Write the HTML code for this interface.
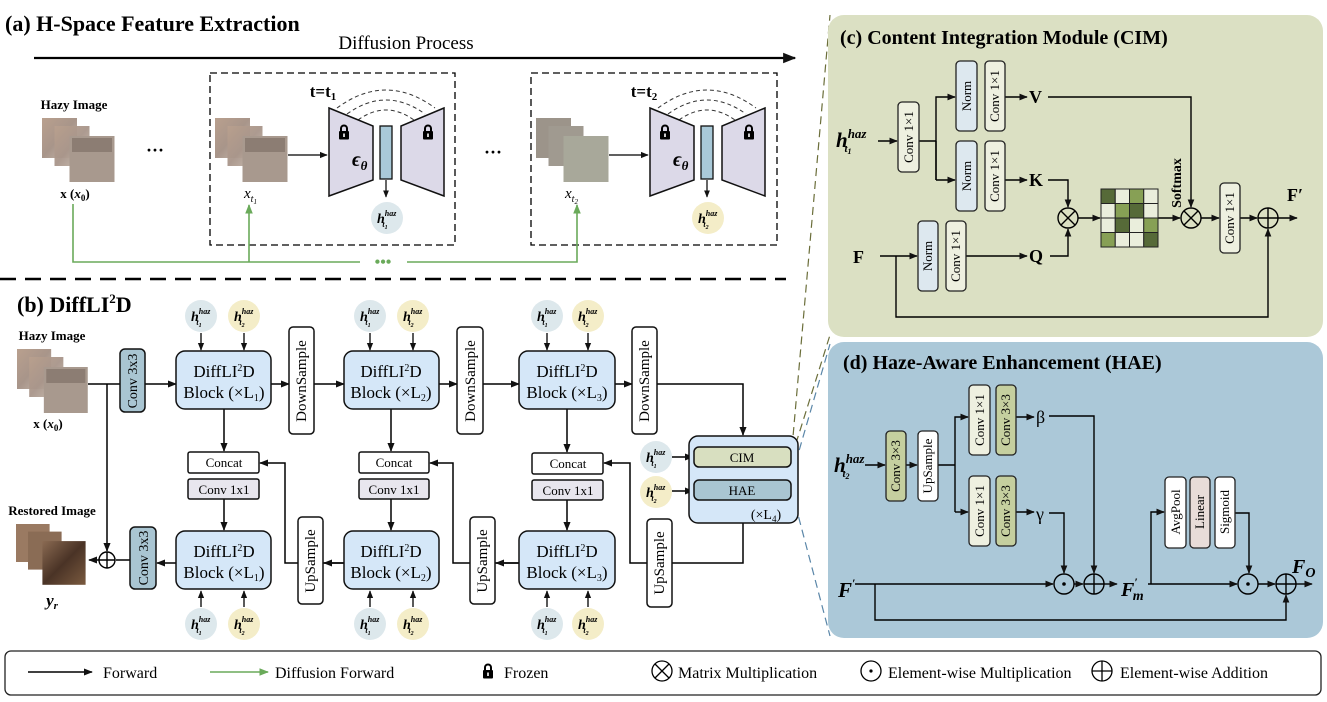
<!DOCTYPE html>
<html><head><meta charset="utf-8"><style>
html,body{margin:0;padding:0;background:#fff;}
svg{display:block;font-family:"Liberation Serif",serif;}
</style></head><body>
<svg width="1327" height="702" viewBox="0 0 1327 702" xmlns="http://www.w3.org/2000/svg">
<defs>
<marker id="ar" viewBox="0 0 10 10" refX="9" refY="5" markerWidth="6" markerHeight="6" orient="auto-start-reverse"><path d="M0,1 L10,5 L0,9 z" fill="#111"/></marker>
<marker id="ag" viewBox="0 0 10 10" refX="9" refY="5" markerWidth="6" markerHeight="6" orient="auto"><path d="M0,1 L10,5 L0,9 z" fill="#6aaa5a"/></marker>
<symbol id="lock" viewBox="0 0 12 16"><path d="M3,7 V4.5 A3,3 0 0 1 9,4.5 V7" fill="none" stroke="#000" stroke-width="2"/><rect x="1" y="7" width="10" height="8.5" rx="1" fill="#000"/><rect x="5.2" y="9.5" width="1.6" height="3.5" fill="#fff"/></symbol>
<linearGradient id="img1" x1="0" y1="0" x2="1" y2="1"><stop offset="0" stop-color="#b9a08e"/><stop offset="0.5" stop-color="#a8958a"/><stop offset="1" stop-color="#cbbfb2"/></linearGradient>
<linearGradient id="img3" x1="0" y1="0" x2="1" y2="1"><stop offset="0" stop-color="#8a6a52"/><stop offset="0.5" stop-color="#4a3326"/><stop offset="1" stop-color="#7a5a3f"/></linearGradient>
<g id="hz"><rect x="0" y="0" width="28" height="40" fill="url(#img1)"/><rect x="10" y="8" width="28" height="40" fill="url(#img1)" opacity="0.95"/><rect x="22" y="18" width="36" height="46" fill="#a8998e"/><rect x="24" y="20" width="32" height="14" fill="#6a5a52" opacity="0.45"/></g>
</defs>

<!-- (a) -->
<text x="5" y="31" font-size="22" font-weight="bold">(a) H-Space Feature Extraction</text>
<text x="406" y="49" font-size="19" text-anchor="middle">Diffusion Process</text>
<line x1="34" y1="58" x2="795" y2="58" stroke="#000" stroke-width="2.2" marker-end="url(#ar)"/>
<rect x="210" y="73" width="245" height="172" fill="none" stroke="#000" stroke-width="1.3" stroke-dasharray="7,4"/>
<rect x="531" y="73" width="246" height="172" fill="none" stroke="#000" stroke-width="1.3" stroke-dasharray="7,4"/>
<text x="74" y="109" font-size="13" font-weight="bold" text-anchor="middle">Hazy Image</text>
<g transform="translate(42,118) scale(1.25,1)"><use href="#hz"/></g>
<text x="75" y="198" font-size="13" font-weight="bold" text-anchor="middle">x (<tspan font-style="italic">x</tspan><tspan font-size="9" dy="3">0</tspan><tspan dy="-3">)</tspan></text>
<text x="155" y="156" font-size="18" font-weight="bold" text-anchor="middle">···</text>
<text x="493" y="158" font-size="18" font-weight="bold" text-anchor="middle">···</text>

<g>
<g transform="translate(215,118) scale(1.25,1)"><use href="#hz"/></g>
<text x="244" y="198" font-size="15" font-style="italic">x<tspan font-size="10" dy="4">t</tspan><tspan font-size="7" dy="2">1</tspan></text>
<line x1="288" y1="155" x2="327" y2="155" stroke="#000" stroke-width="1.3" marker-end="url(#ar)"/>
<text x="323" y="97" font-size="17" font-weight="bold" text-anchor="middle">t=t<tspan font-size="11" dy="3">1</tspan></text>
<path d="M337,108 Q386,72 435,108" fill="none" stroke="#333" stroke-dasharray="4,3"/>
<path d="M347,114 Q386,86 425,114" fill="none" stroke="#333" stroke-dasharray="4,3"/>
<path d="M358,120 Q386,100 414,120" fill="none" stroke="#333" stroke-dasharray="4,3"/>
<polygon points="329,108 373,126 373,180 329,196" fill="#dcd9e8" stroke="#111" stroke-width="1.5"/>
<polygon points="444,108 401,126 401,180 444,196" fill="#dcd9e8" stroke="#111" stroke-width="1.5"/>
<rect x="380" y="126" width="12" height="53" fill="#a9c9d8" stroke="#111" stroke-width="1.3"/>
<use href="#lock" x="338" y="124" width="12" height="16"/>
<use href="#lock" x="422" y="124" width="12" height="16"/>
<text x="352" y="166" font-size="20" font-weight="bold" font-style="italic">ϵ<tspan font-size="13" dy="4">θ</tspan></text>
<line x1="386" y1="180" x2="386" y2="197" stroke="#000" stroke-width="1.2" marker-end="url(#ar)"/>
<circle cx="387" cy="218" r="16" fill="#dde8ec"/>
<text x="377" y="223" font-size="14" font-style="italic" font-weight="bold">h<tspan font-size="8" dy="-7">haz</tspan><tspan font-size="8" dx="-14" dy="11">t</tspan><tspan font-size="6" dy="2">1</tspan></text>
</g>
<g transform="translate(321,0)">
<g transform="translate(215,118) scale(1.25,1)"><rect x="0" y="0" width="28" height="40" fill="#9c948a"/><rect x="10" y="8" width="28" height="40" fill="#a09a90"/><rect x="22" y="18" width="36" height="46" fill="#a8a89a"/></g>
<text x="244" y="198" font-size="15" font-style="italic">x<tspan font-size="10" dy="4">t</tspan><tspan font-size="7" dy="2">2</tspan></text>
<line x1="288" y1="155" x2="327" y2="155" stroke="#000" stroke-width="1.3" marker-end="url(#ar)"/>
<text x="323" y="97" font-size="17" font-weight="bold" text-anchor="middle">t=t<tspan font-size="11" dy="3">2</tspan></text>
<path d="M337,108 Q386,72 435,108" fill="none" stroke="#333" stroke-dasharray="4,3"/>
<path d="M347,114 Q386,86 425,114" fill="none" stroke="#333" stroke-dasharray="4,3"/>
<path d="M358,120 Q386,100 414,120" fill="none" stroke="#333" stroke-dasharray="4,3"/>
<polygon points="329,108 373,126 373,180 329,196" fill="#dcd9e8" stroke="#111" stroke-width="1.5"/>
<polygon points="444,108 401,126 401,180 444,196" fill="#dcd9e8" stroke="#111" stroke-width="1.5"/>
<rect x="380" y="126" width="12" height="53" fill="#a9c9d8" stroke="#111" stroke-width="1.3"/>
<use href="#lock" x="338" y="124" width="12" height="16"/>
<use href="#lock" x="422" y="124" width="12" height="16"/>
<text x="352" y="166" font-size="20" font-weight="bold" font-style="italic">ϵ<tspan font-size="13" dy="4">θ</tspan></text>
<line x1="386" y1="180" x2="386" y2="197" stroke="#000" stroke-width="1.2" marker-end="url(#ar)"/>
<circle cx="387" cy="218" r="16" fill="#f4edc8"/>
<text x="377" y="223" font-size="14" font-style="italic" font-weight="bold">h<tspan font-size="8" dy="-7">haz</tspan><tspan font-size="8" dx="-14" dy="11">t</tspan><tspan font-size="6" dy="2">2</tspan></text>
</g>
<g stroke="#6aaa5a" stroke-width="1.6" fill="none">
<polyline points="73,204 73,262 360,262"/>
<polyline points="407,262 577,262 577,205" marker-end="url(#ag)"/>
<line x1="249" y1="262" x2="249" y2="205" marker-end="url(#ag)"/>
</g>
<text x="383" y="267" font-size="16" font-weight="bold" fill="#6aaa5a" text-anchor="middle">•••</text>
<line x1="0" y1="279" x2="786" y2="279" stroke="#000" stroke-width="2.5" stroke-dasharray="16,9"/>

<g stroke-width="1.2" stroke-dasharray="8,5" fill="none">
<line x1="792" y1="448" x2="830" y2="15" stroke="#6b6e3a"/>
<line x1="792" y1="456" x2="830" y2="335" stroke="#6b6e3a"/>
<line x1="792" y1="475" x2="830" y2="344" stroke="#5a86a8"/>
<line x1="792" y1="492" x2="830" y2="636" stroke="#5a86a8"/>
</g>

<!-- (b) -->
<text x="17" y="312" font-size="22" font-weight="bold">(b) DiffLI<tspan font-size="13" dy="-9">2</tspan><tspan dy="9">D</tspan></text>
<text x="52" y="340" font-size="13" font-weight="bold" text-anchor="middle">Hazy Image</text>
<g transform="translate(17,349) scale(1.22,1)"><use href="#hz"/></g>
<text x="48" y="428" font-size="13" font-weight="bold" text-anchor="middle">x (<tspan font-style="italic">x</tspan><tspan font-size="9" dy="3">0</tspan><tspan dy="-3">)</tspan></text>
<text x="52" y="515" font-size="13" font-weight="bold" text-anchor="middle">Restored Image</text>
<g transform="translate(16,524) scale(1.2,0.95)"><rect x="0" y="0" width="28" height="40" fill="#9a7a62"/><rect x="10" y="8" width="28" height="40" fill="#8a6c55"/><rect x="22" y="18" width="36" height="46" fill="url(#img3)"/></g>
<text x="52" y="606" font-size="17" font-weight="bold" font-style="italic" text-anchor="middle">y<tspan font-size="11" dy="3">r</tspan></text>

<g stroke="#000" stroke-width="1.5" fill="none">
<line x1="88" y1="384" x2="120" y2="384"/>
<line x1="145" y1="384" x2="176" y2="384" marker-end="url(#ar)"/>
<line x1="107" y1="384" x2="107" y2="551" marker-end="url(#ar)"/>
<line x1="271" y1="384" x2="289" y2="384" marker-end="url(#ar)"/>
<line x1="314" y1="384" x2="344" y2="384" marker-end="url(#ar)"/>
<line x1="439" y1="384" x2="457" y2="384" marker-end="url(#ar)"/>
<line x1="483" y1="384" x2="519" y2="384" marker-end="url(#ar)"/>
<line x1="615" y1="384" x2="632" y2="384" marker-end="url(#ar)"/>
<polyline points="657,384 743,384 743,435" marker-end="url(#ar)"/>
<line x1="224" y1="409" x2="224" y2="451" marker-end="url(#ar)"/>
<line x1="391" y1="409" x2="391" y2="451" marker-end="url(#ar)"/>
<line x1="567" y1="409" x2="567" y2="452" marker-end="url(#ar)"/>
<line x1="224" y1="499" x2="224" y2="530" marker-end="url(#ar)"/>
<line x1="391" y1="499" x2="391" y2="530" marker-end="url(#ar)"/>
<line x1="567" y1="500" x2="567" y2="530" marker-end="url(#ar)"/>
<polyline points="743,523 743,563 630,563 630,463 604,463" marker-end="url(#ar)"/>
<polyline points="519,563 453,563 453,463 430,463" marker-end="url(#ar)"/>
<line x1="519" y1="563" x2="496" y2="563" marker-end="url(#ar)"/>
<polyline points="344,563 285,563 285,463 260,463" marker-end="url(#ar)"/>
<line x1="344" y1="563" x2="324" y2="563" marker-end="url(#ar)"/>
<line x1="176" y1="563" x2="157" y2="563" marker-end="url(#ar)"/>
<line x1="130" y1="560" x2="116" y2="560"/>
<line x1="99" y1="560" x2="89" y2="560" marker-end="url(#ar)"/>
<line x1="672" y1="457" x2="693" y2="457" marker-end="url(#ar)"/>
<line x1="672" y1="491" x2="693" y2="491" marker-end="url(#ar)"/>
</g>
<circle cx="107" cy="560" r="8" fill="#fff" stroke="#000" stroke-width="1.4"/>
<path d="M99,560 H115 M107,552 V568" stroke="#000" stroke-width="1.4"/>

<g stroke="#111" stroke-width="1.5">
<rect x="120" y="349" width="25" height="63" rx="5" fill="#a9c5d2"/>
<rect x="130" y="527" width="26" height="62" rx="5" fill="#a9c5d2"/>
<rect x="176" y="351" width="95" height="58" rx="9" fill="#d5e7f8"/>
<rect x="344" y="351" width="95" height="58" rx="9" fill="#d5e7f8"/>
<rect x="519" y="351" width="96" height="58" rx="9" fill="#d5e7f8"/>
<rect x="176" y="531" width="95" height="58" rx="9" fill="#d5e7f8"/>
<rect x="344" y="531" width="95" height="58" rx="9" fill="#d5e7f8"/>
<rect x="519" y="531" width="96" height="58" rx="9" fill="#d5e7f8"/>
<rect x="289" y="327" width="25" height="107" rx="4" fill="#fff"/>
<rect x="457" y="327" width="26" height="107" rx="4" fill="#fff"/>
<rect x="632" y="327" width="25" height="107" rx="4" fill="#fff"/>
<rect x="298" y="517" width="25" height="87" rx="4" fill="#fff"/>
<rect x="470" y="517" width="25" height="87" rx="4" fill="#fff"/>
<rect x="647" y="519" width="25" height="88" rx="4" fill="#fff"/>
<rect x="188" y="452" width="71" height="21" rx="2" fill="#fff"/>
<rect x="359" y="452" width="70" height="21" rx="2" fill="#fff"/>
<rect x="532" y="453" width="71" height="21" rx="2" fill="#fff"/>
<rect x="188" y="479" width="71" height="20" rx="2" fill="#e8e6ee"/>
<rect x="359" y="479" width="70" height="20" rx="2" fill="#e8e6ee"/>
<rect x="532" y="480" width="71" height="20" rx="2" fill="#e8e6ee"/>
<rect x="689" y="436" width="109" height="87" rx="9" fill="#d5e7f8"/>
<rect x="694" y="447" width="97" height="20" rx="5" fill="#d8dfc0"/>
<rect x="694" y="480" width="97" height="20" rx="5" fill="#a9c5d2"/>
</g>
<g font-size="13" text-anchor="middle">
<text transform="translate(137,381) rotate(-90)" font-size="14">Conv 3x3</text>
<text transform="translate(148,558) rotate(-90)" font-size="14">Conv 3x3</text>
<text transform="translate(306,381) rotate(-90)" font-size="15">DownSample</text>
<text transform="translate(475,381) rotate(-90)" font-size="15">DownSample</text>
<text transform="translate(649,381) rotate(-90)" font-size="15">DownSample</text>
<text transform="translate(315,561) rotate(-90)" font-size="15">UpSample</text>
<text transform="translate(487,561) rotate(-90)" font-size="15">UpSample</text>
<text transform="translate(664,563) rotate(-90)" font-size="15">UpSample</text>
<text x="224" y="467">Concat</text><text x="394" y="467">Concat</text><text x="568" y="468">Concat</text>
<text x="224" y="494">Conv 1x1</text><text x="394" y="494">Conv 1x1</text><text x="568" y="495">Conv 1x1</text>
<text x="742" y="462">CIM</text><text x="742" y="495">HAE</text>
<text x="766" y="519" font-size="14">(×L<tspan font-size="9" dy="3">4</tspan><tspan dy="-3">)</tspan></text>
</g>
<g font-size="17" text-anchor="middle">
<text x="224" y="377">DiffLI<tspan font-size="10" dy="-6">2</tspan><tspan dy="6">D</tspan></text><text x="224" y="398">Block (×L<tspan font-size="10" dy="3">1</tspan><tspan dy="-3">)</tspan></text>
<text x="391" y="377">DiffLI<tspan font-size="10" dy="-6">2</tspan><tspan dy="6">D</tspan></text><text x="391" y="398">Block (×L<tspan font-size="10" dy="3">2</tspan><tspan dy="-3">)</tspan></text>
<text x="567" y="377">DiffLI<tspan font-size="10" dy="-6">2</tspan><tspan dy="6">D</tspan></text><text x="567" y="398">Block (×L<tspan font-size="10" dy="3">3</tspan><tspan dy="-3">)</tspan></text>
<text x="224" y="557">DiffLI<tspan font-size="10" dy="-6">2</tspan><tspan dy="6">D</tspan></text><text x="224" y="578">Block (×L<tspan font-size="10" dy="3">1</tspan><tspan dy="-3">)</tspan></text>
<text x="391" y="557">DiffLI<tspan font-size="10" dy="-6">2</tspan><tspan dy="6">D</tspan></text><text x="391" y="578">Block (×L<tspan font-size="10" dy="3">2</tspan><tspan dy="-3">)</tspan></text>
<text x="567" y="557">DiffLI<tspan font-size="10" dy="-6">2</tspan><tspan dy="6">D</tspan></text><text x="567" y="578">Block (×L<tspan font-size="10" dy="3">3</tspan><tspan dy="-3">)</tspan></text>
</g>

<g stroke="#000" stroke-width="1.3">
<line x1="201" y1="333" x2="201" y2="350" marker-end="url(#ar)"/><line x1="244" y1="333" x2="244" y2="350" marker-end="url(#ar)"/>
<line x1="370" y1="333" x2="370" y2="350" marker-end="url(#ar)"/><line x1="413" y1="333" x2="413" y2="350" marker-end="url(#ar)"/>
<line x1="547" y1="333" x2="547" y2="350" marker-end="url(#ar)"/><line x1="588" y1="333" x2="588" y2="350" marker-end="url(#ar)"/>
<line x1="201" y1="607" x2="201" y2="591" marker-end="url(#ar)"/><line x1="244" y1="607" x2="244" y2="591" marker-end="url(#ar)"/>
<line x1="370" y1="607" x2="370" y2="591" marker-end="url(#ar)"/><line x1="413" y1="607" x2="413" y2="591" marker-end="url(#ar)"/>
<line x1="547" y1="607" x2="547" y2="591" marker-end="url(#ar)"/><line x1="588" y1="607" x2="588" y2="591" marker-end="url(#ar)"/>
</g>
<g font-size="14" font-style="italic" font-weight="bold">
<circle cx="201" cy="316" r="16" fill="#dde8ec"/><text x="191" y="321">h<tspan font-size="8" dy="-7">haz</tspan><tspan font-size="8" dx="-14" dy="11">t</tspan><tspan font-size="6" dy="2">1</tspan></text>
<circle cx="244" cy="316" r="16" fill="#f4edc8"/><text x="234" y="321">h<tspan font-size="8" dy="-7">haz</tspan><tspan font-size="8" dx="-14" dy="11">t</tspan><tspan font-size="6" dy="2">2</tspan></text>
<circle cx="370" cy="316" r="16" fill="#dde8ec"/><text x="360" y="321">h<tspan font-size="8" dy="-7">haz</tspan><tspan font-size="8" dx="-14" dy="11">t</tspan><tspan font-size="6" dy="2">1</tspan></text>
<circle cx="413" cy="316" r="16" fill="#f4edc8"/><text x="403" y="321">h<tspan font-size="8" dy="-7">haz</tspan><tspan font-size="8" dx="-14" dy="11">t</tspan><tspan font-size="6" dy="2">2</tspan></text>
<circle cx="547" cy="316" r="16" fill="#dde8ec"/><text x="537" y="321">h<tspan font-size="8" dy="-7">haz</tspan><tspan font-size="8" dx="-14" dy="11">t</tspan><tspan font-size="6" dy="2">1</tspan></text>
<circle cx="588" cy="316" r="16" fill="#f4edc8"/><text x="578" y="321">h<tspan font-size="8" dy="-7">haz</tspan><tspan font-size="8" dx="-14" dy="11">t</tspan><tspan font-size="6" dy="2">2</tspan></text>
<circle cx="201" cy="624" r="16" fill="#dde8ec"/><text x="191" y="629">h<tspan font-size="8" dy="-7">haz</tspan><tspan font-size="8" dx="-14" dy="11">t</tspan><tspan font-size="6" dy="2">1</tspan></text>
<circle cx="244" cy="624" r="16" fill="#f4edc8"/><text x="234" y="629">h<tspan font-size="8" dy="-7">haz</tspan><tspan font-size="8" dx="-14" dy="11">t</tspan><tspan font-size="6" dy="2">2</tspan></text>
<circle cx="370" cy="624" r="16" fill="#dde8ec"/><text x="360" y="629">h<tspan font-size="8" dy="-7">haz</tspan><tspan font-size="8" dx="-14" dy="11">t</tspan><tspan font-size="6" dy="2">1</tspan></text>
<circle cx="413" cy="624" r="16" fill="#f4edc8"/><text x="403" y="629">h<tspan font-size="8" dy="-7">haz</tspan><tspan font-size="8" dx="-14" dy="11">t</tspan><tspan font-size="6" dy="2">2</tspan></text>
<circle cx="547" cy="624" r="16" fill="#dde8ec"/><text x="537" y="629">h<tspan font-size="8" dy="-7">haz</tspan><tspan font-size="8" dx="-14" dy="11">t</tspan><tspan font-size="6" dy="2">1</tspan></text>
<circle cx="588" cy="624" r="16" fill="#f4edc8"/><text x="578" y="629">h<tspan font-size="8" dy="-7">haz</tspan><tspan font-size="8" dx="-14" dy="11">t</tspan><tspan font-size="6" dy="2">2</tspan></text>
<circle cx="656" cy="457" r="16" fill="#dde8ec"/><text x="646" y="462">h<tspan font-size="8" dy="-7">haz</tspan><tspan font-size="8" dx="-14" dy="11">t</tspan><tspan font-size="6" dy="2">1</tspan></text>
<circle cx="656" cy="492" r="16" fill="#f4edc8"/><text x="646" y="497">h<tspan font-size="8" dy="-7">haz</tspan><tspan font-size="8" dx="-14" dy="11">t</tspan><tspan font-size="6" dy="2">2</tspan></text>
</g>

<!-- (c) CIM -->
<rect x="828" y="15" width="495" height="322" rx="16" fill="#dbe0c3"/>
<text x="840" y="44" font-size="20" font-weight="bold">(c) Content Integration Module (CIM)</text>
<text x="836" y="147" font-size="21" font-weight="bold" font-style="italic">h<tspan font-size="13" dy="-9">haz</tspan><tspan font-size="11" dx="-22" dy="14">t</tspan><tspan font-size="8" dy="2">1</tspan></text>
<g stroke="#000" stroke-width="1.4" fill="none">
<line x1="878" y1="141" x2="897" y2="141" marker-end="url(#ar)"/>
<polyline points="919,141 936,141"/>
<polyline points="936,180 936,97 955,97" marker-end="url(#ar)"/>
<line x1="936" y1="141" x2="936" y2="180"/>
<line x1="936" y1="180" x2="955" y2="180" marker-end="url(#ar)"/>
<line x1="1005" y1="97" x2="1027" y2="97" marker-end="url(#ar)"/>
<line x1="1005" y1="180" x2="1027" y2="180" marker-end="url(#ar)"/>
<polyline points="1048,97 1191,97 1191,207" marker-end="url(#ar)"/>
<polyline points="1048,180 1068,180 1068,207" marker-end="url(#ar)"/>
<polyline points="1050,256 1068,256 1068,229" marker-end="url(#ar)"/>
<line x1="880" y1="256" x2="917" y2="256" marker-end="url(#ar)"/>
<line x1="966" y1="256" x2="1027" y2="256" marker-end="url(#ar)"/>
<line x1="1078" y1="218" x2="1100" y2="218" marker-end="url(#ar)"/>
<line x1="1158" y1="218" x2="1180" y2="218" marker-end="url(#ar)"/>
<line x1="1201" y1="218" x2="1219" y2="218" marker-end="url(#ar)"/>
<line x1="1240" y1="218" x2="1257" y2="218" marker-end="url(#ar)"/>
<line x1="1278" y1="218" x2="1297" y2="218" marker-end="url(#ar)"/>
<polyline points="896,256 896,317 1268,317 1268,229" marker-end="url(#ar)"/>
</g>
<g stroke="#222" stroke-width="1.3">
<rect x="898" y="102" width="21" height="70" rx="4" fill="#eef0e0"/>
<rect x="956" y="61" width="21" height="70" rx="4" fill="#dde8ef"/>
<rect x="985" y="61" width="20" height="70" rx="4" fill="#eef0e0"/>
<rect x="956" y="141" width="21" height="70" rx="4" fill="#dde8ef"/>
<rect x="985" y="141" width="20" height="70" rx="4" fill="#eef0e0"/>
<rect x="918" y="221" width="20" height="70" rx="4" fill="#dde8ef"/>
<rect x="946" y="221" width="20" height="70" rx="4" fill="#eef0e0"/>
<rect x="1220" y="183" width="20" height="70" rx="4" fill="#eef0e0"/>
</g>
<g font-size="13" text-anchor="middle">
<text transform="translate(913,137) rotate(-90)">Conv 1×1</text>
<text transform="translate(971,96) rotate(-90)">Norm</text>
<text transform="translate(999,96) rotate(-90)">Conv 1×1</text>
<text transform="translate(971,176) rotate(-90)">Norm</text>
<text transform="translate(999,176) rotate(-90)">Conv 1×1</text>
<text transform="translate(932,256) rotate(-90)">Norm</text>
<text transform="translate(960,256) rotate(-90)">Conv 1×1</text>
<text transform="translate(1234,218) rotate(-90)">Conv 1×1</text>
</g>
<g font-size="18" font-weight="bold">
<text x="1029" y="103">V</text><text x="1029" y="186">K</text><text x="1029" y="262">Q</text>
<text x="853" y="263">F</text><text x="1287" y="201">F′</text>
</g>
<text transform="translate(1181,183) rotate(-90)" font-size="14" font-weight="bold" text-anchor="middle">Softmax</text>
<g stroke="#222" stroke-width="1">
<rect x="1101" y="189" width="14.25" height="14.5" fill="#566a38"/><rect x="1115.25" y="189" width="14.25" height="14.5" fill="#eaeedc"/><rect x="1129.5" y="189" width="14.25" height="14.5" fill="#87a055"/><rect x="1143.75" y="189" width="14.25" height="14.5" fill="#eaeedc"/>
<rect x="1101" y="203.5" width="14.25" height="14.5" fill="#eaeedc"/><rect x="1115.25" y="203.5" width="14.25" height="14.5" fill="#87a055"/><rect x="1129.5" y="203.5" width="14.25" height="14.5" fill="#566a38"/><rect x="1143.75" y="203.5" width="14.25" height="14.5" fill="#eaeedc"/>
<rect x="1101" y="218" width="14.25" height="14.5" fill="#eaeedc"/><rect x="1115.25" y="218" width="14.25" height="14.5" fill="#566a38"/><rect x="1129.5" y="218" width="14.25" height="14.5" fill="#eaeedc"/><rect x="1143.75" y="218" width="14.25" height="14.5" fill="#87a055"/>
<rect x="1101" y="232.5" width="14.25" height="14.5" fill="#87a055"/><rect x="1115.25" y="232.5" width="14.25" height="14.5" fill="#eaeedc"/><rect x="1129.5" y="232.5" width="14.25" height="14.5" fill="#eaeedc"/><rect x="1143.75" y="232.5" width="14.25" height="14.5" fill="#566a38"/>
</g>
<g stroke="#000" stroke-width="1.4" fill="none">
<circle cx="1068" cy="218" r="10"/><path d="M1061,211 L1075,225 M1075,211 L1061,225"/>
<circle cx="1191" cy="218" r="10"/><path d="M1184,211 L1198,225 M1198,211 L1184,225"/>
<circle cx="1268" cy="218" r="10"/><path d="M1258,218 H1278 M1268,208 V228"/>
</g>

<!-- (d) HAE -->
<rect x="828" y="342" width="495" height="296" rx="16" fill="#abc8d8"/>
<text x="843" y="369" font-size="20" font-weight="bold">(d) Haze-Aware Enhancement (HAE)</text>
<text x="834" y="472" font-size="21" font-weight="bold" font-style="italic">h<tspan font-size="13" dy="-9">haz</tspan><tspan font-size="11" dx="-22" dy="14">t</tspan><tspan font-size="8" dy="2">2</tspan></text>
<g stroke="#000" stroke-width="1.4" fill="none">
<line x1="865" y1="465" x2="885" y2="465" marker-end="url(#ar)"/>
<line x1="906" y1="465" x2="917" y2="465" marker-end="url(#ar)"/>
<line x1="938" y1="465" x2="955" y2="465"/>
<polyline points="955,512 955,417 968,417" marker-end="url(#ar)"/>
<line x1="955" y1="512" x2="968" y2="512" marker-end="url(#ar)"/>
<line x1="1016" y1="417" x2="1034" y2="417" marker-end="url(#ar)"/>
<line x1="1016" y1="512" x2="1034" y2="512" marker-end="url(#ar)"/>
<polyline points="1049,416 1094,416 1094,573" marker-end="url(#ar)"/>
<polyline points="1049,513 1064,513 1064,573" marker-end="url(#ar)"/>
<line x1="855" y1="584" x2="1053" y2="584" marker-end="url(#ar)"/>
<line x1="1074" y1="584" x2="1083" y2="584" marker-end="url(#ar)"/>
<line x1="1104" y1="584" x2="1117" y2="584" marker-end="url(#ar)"/>
<line x1="1148" y1="584" x2="1237" y2="584" marker-end="url(#ar)"/>
<polyline points="1151,584 1151,512 1164,512" marker-end="url(#ar)"/>
<polyline points="1235,513 1249,513 1249,573" marker-end="url(#ar)"/>
<line x1="1258" y1="584" x2="1275" y2="584" marker-end="url(#ar)"/>
<line x1="1296" y1="584" x2="1312" y2="584" marker-end="url(#ar)"/>
<polyline points="875,584 875,620 1286,620 1286,595" marker-end="url(#ar)"/>
</g>
<g stroke="#222" stroke-width="1.3">
<rect x="886" y="431" width="20" height="70" rx="4" fill="#c5cf9f"/>
<rect x="918" y="431" width="20" height="70" rx="4" fill="#fff"/>
<rect x="969" y="385" width="21" height="70" rx="4" fill="#eef0e0"/>
<rect x="996" y="385" width="20" height="70" rx="4" fill="#c5cf9f"/>
<rect x="969" y="476" width="21" height="70" rx="4" fill="#eef0e0"/>
<rect x="996" y="476" width="20" height="70" rx="4" fill="#c5cf9f"/>
<rect x="1165" y="477" width="21" height="71" rx="4" fill="#fff"/>
<rect x="1190" y="477" width="20" height="71" rx="4" fill="#e8dcd8"/>
<rect x="1215" y="477" width="20" height="71" rx="4" fill="#fff"/>
</g>
<g font-size="13" text-anchor="middle">
<text transform="translate(900,466) rotate(-90)">Conv 3×3</text>
<text transform="translate(932,466) rotate(-90)">UpSample</text>
<text transform="translate(984,420) rotate(-90)">Conv 1×1</text>
<text transform="translate(1010,420) rotate(-90)">Conv 3×3</text>
<text transform="translate(984,511) rotate(-90)">Conv 1×1</text>
<text transform="translate(1010,511) rotate(-90)">Conv 3×3</text>
<text transform="translate(1180,512) rotate(-90)">AvgPool</text>
<text transform="translate(1204,512) rotate(-90)">Linear</text>
<text transform="translate(1229,512) rotate(-90)">Sigmoid</text>
</g>
<text x="1036" y="423" font-size="18">β</text>
<text x="1036" y="520" font-size="18">γ</text>
<text x="838" y="597" font-size="21" font-weight="bold" font-style="italic">F<tspan font-size="12" dy="-10">′</tspan></text>
<text x="1121" y="596" font-size="20" font-weight="bold" font-style="italic">F<tspan font-size="12" dy="-10">′</tspan><tspan font-size="14" dx="-5" dy="14">m</tspan></text>
<text x="1292" y="573" font-size="20" font-weight="bold" font-style="italic">F<tspan font-size="14" dy="4">O</tspan></text>
<g stroke="#000" stroke-width="1.4" fill="none">
<circle cx="1064" cy="584" r="10"/>
<circle cx="1094" cy="584" r="10"/><path d="M1084,584 H1104 M1094,574 V594"/>
<circle cx="1248" cy="584" r="10"/>
<circle cx="1286" cy="584" r="10"/><path d="M1276,584 H1296 M1286,574 V594"/>
</g>
<circle cx="1064" cy="584" r="1.8" fill="#000"/><circle cx="1248" cy="584" r="1.8" fill="#000"/>

<!-- legend -->
<rect x="5" y="651" width="1316" height="44" rx="6" fill="#fff" stroke="#222" stroke-width="1.3"/>
<g font-size="16">
<line x1="28" y1="672" x2="92" y2="672" stroke="#000" stroke-width="1.5" marker-end="url(#ar)"/>
<text x="103" y="678">Forward</text>
<line x1="210" y1="672" x2="268" y2="672" stroke="#6aaa5a" stroke-width="1.6" marker-end="url(#ag)"/>
<text x="275" y="678">Diffusion Forward</text>
<use href="#lock" x="482" y="663" width="12" height="16"/>
<text x="504" y="678">Frozen</text>
<circle cx="662" cy="671" r="10" fill="none" stroke="#000" stroke-width="1.3"/><path d="M655,664 L669,678 M669,664 L655,678" stroke="#000" stroke-width="1.3"/>
<text x="678" y="678">Matrix  Multiplication</text>
<circle cx="871" cy="671" r="10" fill="none" stroke="#000" stroke-width="1.3"/><circle cx="871" cy="671" r="1.6"/>
<text x="888" y="678">Element-wise Multiplication</text>
<circle cx="1102" cy="671" r="10" fill="none" stroke="#000" stroke-width="1.3"/><path d="M1092,671 H1112 M1102,661 V681" stroke="#000" stroke-width="1.3"/>
<text x="1120" y="678">Element-wise Addition</text>
</g>
</svg>
</body></html>
